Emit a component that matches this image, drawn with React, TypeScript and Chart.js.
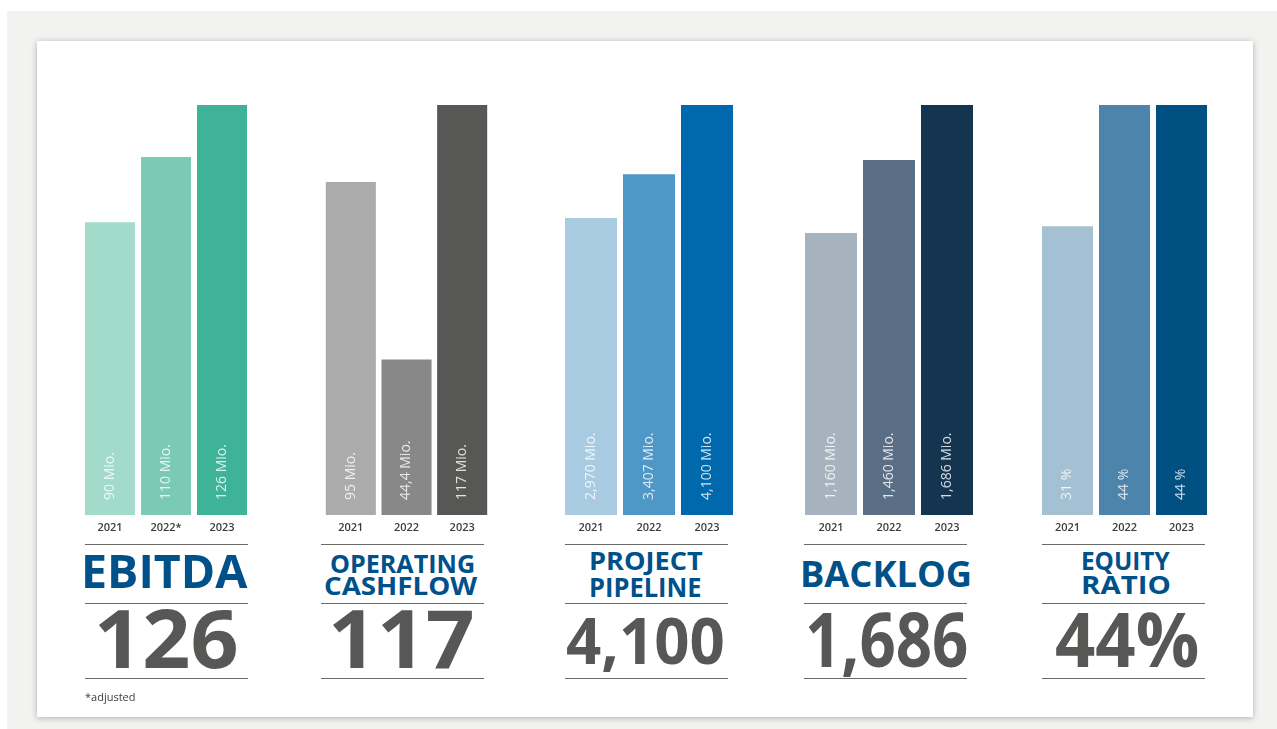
import React, { useEffect, useRef } from 'react';
import { Chart, registerables } from 'chart.js';

Chart.register(...registerables);

const FONT = '"Open Sans", "Noto Sans", "DejaVu Sans", sans-serif';

// ---------- data ----------
const years = ['2021', '2022', '2023'];
const ebitdaYears = ['2021', '2022*', '2023'];

const ebitdaValues = [90, 110, 126];
const ebitdaLabels = ['90 Mio.', '110 Mio.', '126 Mio.'];

const cashflowValues = [95, 44.4, 117];
const cashflowLabels = ['95 Mio.', '44,4 Mio.', '117 Mio.'];

const pipelineValues = [2970, 3407, 4100];
const pipelineLabels = ['2,970 Mio.', '3,407 Mio.', '4,100 Mio.'];

const backlogValues = [1160, 1460, 1686];
const backlogLabels = ['1,160 Mio.', '1,460 Mio.', '1,686 Mio.'];

const equityValues = [31, 44, 44];
const equityLabels = ['31 %', '44 %', '44 %'];

const ebitdaTitle = ['EBITDA'];
const cashflowTitle = ['OPERATING', 'CASHFLOW'];
const pipelineTitle = ['PROJECT', 'PIPELINE'];
const backlogTitle = ['BACKLOG'];
const equityTitle = ['EQUITY', 'RATIO'];

const headlineNumbers = ['126', '117', '4,100', '1,686', '44%'];
const footnote = '*adjusted';

// ---------- styles ----------
const ebitdaColors = ['#a3dbcb', '#7bcab6', '#3fb397'];
const cashflowColors = ['#ababab', '#888888', '#575756'];
const pipelineColors = ['#a9cbe1', '#4e97c6', '#0069ad'];
const backlogColors = ['#a6b3bf', '#5a6f85', '#15344f'];
const equityColors = ['#a4c1d3', '#4c84ab', '#005082'];

const TITLE_COLOR = '#00508a';
const NUMBER_COLOR = '#575756';
const RULE_COLOR = '#6a6a69';

type Line = { text: string; size: number; left: number; right: number; baseline: number; color: string };

type Panel = {
  values: number[];
  labels: string[];
  cats: string[];
  colors: string[];
  areaLeft: number;
  areaWidth: number;
  barPct: number;
  ruleLeft: number;
  ruleRight: number;
  lines: Line[];
};

const panels: Panel[] = [
  {
    values: ebitdaValues, labels: ebitdaLabels, cats: ebitdaYears, colors: ebitdaColors,
    areaLeft: 82, areaWidth: 168, barPct: 50 / 56, ruleLeft: 85, ruleRight: 248,
    lines: [
      { text: ebitdaTitle[0], size: 47, left: 85, right: 248, baseline: 588, color: TITLE_COLOR },
      { text: headlineNumbers[0], size: 81, left: 98, right: 236, baseline: 668, color: NUMBER_COLOR },
    ],
  },
  {
    values: cashflowValues, labels: cashflowLabels, cats: years, colors: cashflowColors,
    areaLeft: 323, areaWidth: 167, barPct: 50 / 55.6, ruleLeft: 321, ruleRight: 484,
    lines: [
      { text: cashflowTitle[0], size: 25, left: 331, right: 474, baseline: 573, color: TITLE_COLOR },
      { text: cashflowTitle[1], size: 25, left: 325, right: 478, baseline: 595, color: TITLE_COLOR },
      { text: headlineNumbers[1], size: 81, left: 332, right: 472, baseline: 668, color: NUMBER_COLOR },
    ],
  },
  {
    values: pipelineValues, labels: pipelineLabels, cats: years, colors: pipelineColors,
    areaLeft: 562, areaWidth: 174, barPct: 52 / 58, ruleLeft: 565, ruleRight: 728,
    lines: [
      { text: pipelineTitle[0], size: 25, left: 591, right: 702, baseline: 570, color: TITLE_COLOR },
      { text: pipelineTitle[1], size: 26, left: 591, right: 701, baseline: 597, color: TITLE_COLOR },
      { text: headlineNumbers[2], size: 64.5, left: 567, right: 723, baseline: 664, color: NUMBER_COLOR },
    ],
  },
  {
    values: backlogValues, labels: backlogLabels, cats: years, colors: backlogColors,
    areaLeft: 802, areaWidth: 174, barPct: 52 / 58, ruleLeft: 804, ruleRight: 967,
    lines: [
      { text: backlogTitle[0], size: 36, left: 803, right: 970, baseline: 587, color: TITLE_COLOR },
      { text: headlineNumbers[3], size: 76, left: 808, right: 966, baseline: 667, color: NUMBER_COLOR },
    ],
  },
  {
    values: equityValues, labels: equityLabels, cats: years, colors: equityColors,
    areaLeft: 1039, areaWidth: 171, barPct: 51 / 57, ruleLeft: 1042, ruleRight: 1205,
    lines: [
      { text: equityTitle[0], size: 25, left: 1083, right: 1170, baseline: 570, color: TITLE_COLOR },
      { text: equityTitle[1], size: 25.5, left: 1083, right: 1169, baseline: 594.5, color: TITLE_COLOR },
      { text: headlineNumbers[4], size: 76, left: 1056, right: 1198, baseline: 667, color: NUMBER_COLOR },
    ],
  },
];

const CANVAS_TOP = 95;
const CANVAS_HEIGHT = 445;

let measureCtx: CanvasRenderingContext2D | null = null;
function measure(text: string, font: string) {
  if (!measureCtx) measureCtx = document.createElement('canvas').getContext('2d');
  const ctx = measureCtx!;
  ctx.font = font;
  return ctx.measureText(text);
}

function FitLine({ line }: { line: Line }) {
  const font = `700 ${line.size}px ${FONT}`;
  const m = measure(line.text, font);
  const inkLeft = -m.actualBoundingBoxLeft;
  const natural = m.actualBoundingBoxLeft + m.actualBoundingBoxRight;
  const scale = natural > 0 ? (line.right - line.left) / natural : 1;
  const asc = m.fontBoundingBoxAscent || line.size * 1.069;
  const desc = m.fontBoundingBoxDescent || line.size * 0.293;
  const L = Math.ceil(line.size * 1.5);
  const top = line.baseline - ((L - (asc + desc)) / 2 + asc);
  return (
    <div
      style={{
        position: 'absolute',
        left: line.left - inkLeft * scale,
        top,
        font,
        lineHeight: `${L}px`,
        color: line.color,
        whiteSpace: 'nowrap',
        transform: `scaleX(${scale})`,
        transformOrigin: '0 0',
      }}
    >
      {line.text}
    </div>
  );
}

function valueLabelPlugin(labels: string[]) {
  return {
    id: 'valueLabels',
    afterDatasetsDraw(chart: any) {
      const ctx = chart.ctx as CanvasRenderingContext2D;
      const meta = chart.getDatasetMeta(0);
      meta.data.forEach((bar: any, i: number) => {
        ctx.save();
        ctx.translate(bar.x, chart.chartArea.bottom - 15);
        ctx.rotate(-Math.PI / 2);
        ctx.font = `400 14px ${FONT}`;
        ctx.fillStyle = 'rgba(255,255,255,0.82)';
        ctx.textAlign = 'left';
        ctx.textBaseline = 'middle';
        ctx.fillText(labels[i], 0, 0);
        ctx.restore();
      });
    },
  };
}

function BarPanel({ panel }: { panel: Panel }) {
  const ref = useRef<HTMLCanvasElement>(null);
  useEffect(() => {
    if (!ref.current) return;
    const chart = new Chart(ref.current, {
      type: 'bar',
      data: {
        labels: panel.cats,
        datasets: [
          {
            data: panel.values,
            backgroundColor: panel.colors,
            borderWidth: 0,
            barPercentage: panel.barPct,
            categoryPercentage: 1,
          },
        ],
      },
      options: {
        animation: false,
        responsive: false,
        maintainAspectRatio: false,
        devicePixelRatio: 1,
        layout: { padding: { top: 10, left: 0, right: 0, bottom: 0 } },
        plugins: { legend: { display: false }, tooltip: { enabled: false } },
        scales: {
          x: {
            grid: { display: false, drawTicks: false, tickLength: 0 },
            border: { display: false },
            ticks: {
              color: '#3c3c3b',
              font: { family: FONT, size: 11, weight: '600' },
              padding: 6,
              maxRotation: 0,
              autoSkip: false,
            },
            afterFit: (s: any) => {
              s.height = 25;
            },
          },
          y: { display: false, min: 0, max: Math.max(...panel.values) },
        },
      } as any,
      plugins: [valueLabelPlugin(panel.labels)],
    });
    return () => chart.destroy();
  }, [panel]);
  return (
    <canvas
      ref={ref}
      width={panel.areaWidth}
      height={CANVAS_HEIGHT}
      style={{
        position: 'absolute',
        left: panel.areaLeft,
        top: CANVAS_TOP,
        width: panel.areaWidth,
        height: CANVAS_HEIGHT,
        display: 'block',
      }}
    />
  );
}

function Rule({ left, right, y }: { left: number; right: number; y: number }) {
  return (
    <div
      style={{ position: 'absolute', left, top: y, width: right - left, height: 1, background: RULE_COLOR }}
    />
  );
}

export default function App() {
  return (
    <div
      style={{
        position: 'absolute',
        left: 0,
        top: 0,
        width: 1277,
        height: 729,
        overflow: 'hidden',
        background: '#ffffff',
      }}
    >
      <div style={{ position: 'absolute', left: 7, top: 11, width: 1270, height: 718, background: '#f2f2f0' }} />
      <div
        style={{
          position: 'absolute',
          left: 37,
          top: 41,
          width: 1216,
          height: 676,
          background: '#ffffff',
          boxShadow: '0 1px 6px rgba(0,0,0,0.28)',
        }}
      />
      {panels.map((p, i) => (
        <React.Fragment key={i}>
          <BarPanel panel={p} />
          <Rule left={p.ruleLeft} right={p.ruleRight} y={544} />
          <Rule left={p.ruleLeft} right={p.ruleRight} y={603} />
          <Rule left={p.ruleLeft} right={p.ruleRight} y={678} />
          {p.lines.map((l, j) => (
            <FitLine key={j} line={l} />
          ))}
        </React.Fragment>
      ))}
      <div
        style={{
          position: 'absolute',
          left: 85,
          top: 690,
          font: `400 11px ${FONT}`,
          lineHeight: '14px',
          color: '#3c3c3b',
        }}
      >
        {footnote}
      </div>
    </div>
  );
}
